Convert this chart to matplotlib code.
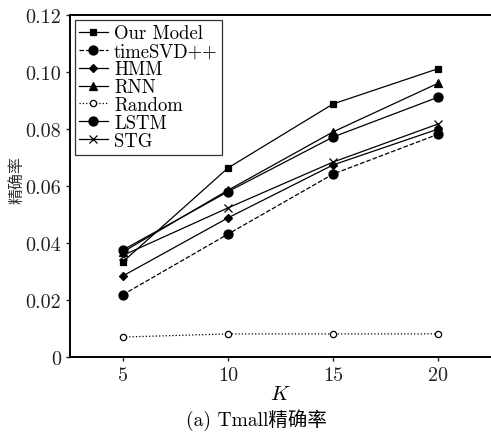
import matplotlib

matplotlib.use("Agg")
import matplotlib.pyplot as plt

plt.rcParams["font.family"] = ["cmr10", "Noto Sans CJK SC"]
plt.rcParams["mathtext.fontset"] = "cm"
plt.rcParams["axes.unicode_minus"] = False

k_values = [5, 10, 15, 20]
our_model = [0.0333, 0.0663, 0.0888, 0.1012]
time_svd = [0.0218, 0.0431, 0.0642, 0.0782]
hmm = [0.0284, 0.0488, 0.0674, 0.0800]
rnn = [0.0368, 0.0585, 0.0790, 0.0961]
random_model = [0.0070, 0.0081, 0.0081, 0.0081]
lstm = [0.0375, 0.0580, 0.0772, 0.0912]
stg = [0.0356, 0.0523, 0.0684, 0.0818]

series = [
    ("Our Model", our_model, "-", "s", 5, "k"),
    ("timeSVD++", time_svd, "--", "o", 6.5, "k"),
    ("HMM", hmm, "-", "D", 4, "k"),
    ("RNN", rnn, "-", "^", 5.5, "k"),
    ("Random", random_model, ":", "o", 4.5, "white"),
    ("LSTM", lstm, "-", "o", 6.5, "k"),
    ("STG", stg, "-", "x", 6, "k"),
]

fig = plt.figure(figsize=(4.91, 4.35), dpi=100)
ax = fig.add_axes([70 / 491, 77 / 435, 421 / 491, 342 / 435])

for label, values, ls, marker, ms, face in series:
    ax.plot(k_values, values, linestyle=ls, marker=marker, markersize=ms,
            color="k", markerfacecolor=face, markeredgecolor="k",
            linewidth=0.9, markeredgewidth=0.9, label=label)

ax.set_xlim(2.5, 22.5)
ax.set_ylim(0, 0.12)
ax.set_xticks(k_values)
ax.set_yticks([0, 0.02, 0.04, 0.06, 0.08, 0.10, 0.12])
ax.set_yticklabels(["0", "0.02", "0.04", "0.06", "0.08", "0.10", "0.12"])
ax.tick_params(direction="out", length=3, width=1, labelsize=14.5, colors="#222222")
for side in ("left", "bottom", "top"):
    ax.spines[side].set_linewidth(1.4)
ax.spines["right"].set_visible(False)

ax.set_xlabel("$K$", fontsize=15, labelpad=1)
ax.set_ylabel("精确率", fontsize=11.5, color="#333333")
ax.yaxis.set_label_coords(-0.107, 0.52)

leg = ax.legend(loc="upper left", fontsize=13.5, frameon=True, fancybox=False,
                edgecolor="k", handlelength=1.5, handletextpad=0.35,
                labelspacing=0.0, borderpad=0.25, borderaxespad=0.25)
leg.get_frame().set_linewidth(0.9)

fig.text(256 / 491, 1 - 420 / 435, "(a) Tmall精确率", ha="center", va="center", fontsize=14)

fig.savefig("out.png", dpi=100)
